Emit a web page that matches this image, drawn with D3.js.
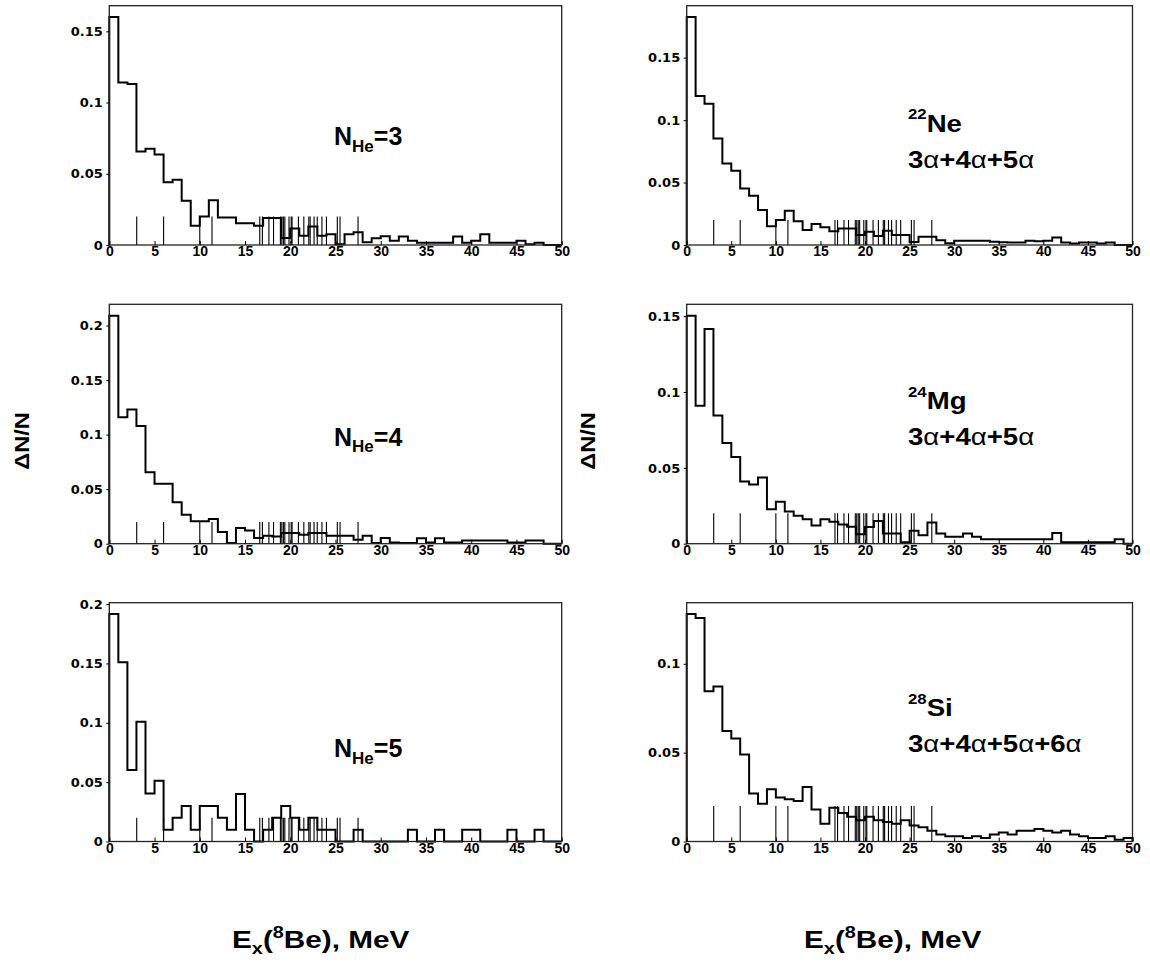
<!DOCTYPE html>
<html>
<head>
<meta charset="utf-8">
<script src="https://cdn.jsdelivr.net/npm/d3@7"></script>
<style>
  body { margin: 0; background: #fff; }
  text { font-family: "Liberation Sans", Arial, sans-serif; font-weight: bold; fill: #000; }
  .ytick text { font-family: "DejaVu Sans", sans-serif; }
</style>
</head>
<body>
<svg id="fig" width="1150" height="968"></svg>
<script>
//------------------------------------------------------------------------
// Ex(8Be) distributions, six panels, 1 MeV bins from 0 to 50 MeV

// Lower edges of the energy bins (MeV)
const binLow = d3.range(0, 50);
const xTicks = [0, 5, 10, 15, 20, 25, 30, 35, 40, 45, 50];

// Known 8Be levels, drawn as short markers (MeV)
const levels = [3.03, 6.0, 10.0, 11.35, 16.63, 16.92, 17.64, 18.15, 18.91, 19.07,
                19.24, 19.40, 19.86, 20.1, 20.2, 20.9, 21.5, 22.05, 22.2, 22.63,
                22.98, 23.5, 24.0, 25.2, 25.5, 27.49];
const levelHeight = 0.02;

// dN/N per bin
const nHe3 = [0.160, 0.114, 0.113, 0.0657, 0.0676, 0.0636, 0.0441, 0.0458, 0.031, 0.0135,
              0.020, 0.0315, 0.0193, 0.0193, 0.0153, 0.0153, 0.0135, 0.019, 0.019, 0.005,
              0.0115, 0.0065, 0.013, 0.0065, 0.0075, 0.0005, 0.0076, 0.009, 0.002, 0.0048,
              0.0062, 0.003, 0.006, 0.003, 0.0015, 0.0015, 0.0015, 0.0015, 0.006, 0.0015,
              0.003, 0.0076, 0.0015, 0.0015, 0.0015, 0.003, 0.0005, 0.0015, 0, 0];

const nHe4 = [0.209, 0.116, 0.123, 0.108, 0.0654, 0.055, 0.055, 0.0379, 0.0266, 0.0205,
              0.0205, 0.0226, 0.0107, 0.0006, 0.0143, 0.0122, 0.0052, 0.0073, 0.0067, 0.0098,
              0.0098, 0.0083, 0.0098, 0.0098, 0.0073, 0.0073, 0.0073, 0.0037, 0.0073, 0.0006,
              0.0052, 0.0012, 0.0006, 0.0006, 0.005, 0.001, 0.005, 0.001, 0.001, 0.003,
              0.003, 0.003, 0.003, 0.003, 0.001, 0.001, 0.003, 0.003, 0, 0];

const nHe5 = [0.1916, 0.151, 0.0603, 0.1008, 0.0405, 0.0511, 0.01, 0.02, 0.03, 0.01,
              0.03, 0.03, 0.02, 0.01, 0.04, 0.01, 0, 0.01, 0.02, 0.03,
              0.02, 0.01, 0.02, 0.01, 0.01, 0, 0, 0.01, 0, 0,
              0, 0, 0, 0.01, 0, 0, 0.01, 0, 0, 0.01,
              0.01, 0, 0, 0, 0.01, 0, 0, 0.01, 0, 0];

const ne22 = [0.1825, 0.1193, 0.1132, 0.0852, 0.0653, 0.0594, 0.0453, 0.0394, 0.028, 0.015,
              0.020, 0.0274, 0.019, 0.012, 0.0168, 0.0143, 0.011, 0.0133, 0.0133, 0.008,
              0.0106, 0.0072, 0.0114, 0.008, 0.008, 0.0025, 0.0067, 0.0067, 0.0038, 0.0015,
              0.0035, 0.0035, 0.0035, 0.0035, 0.0027, 0.0022, 0.002, 0.002, 0.0035, 0.003,
              0.0035, 0.006, 0.002, 0.0013, 0.002, 0.002, 0.0013, 0.002, 0, 0];

const mg24 = [0.1503, 0.0909, 0.1415, 0.0845, 0.0664, 0.0572, 0.041, 0.0391, 0.0437, 0.0227,
              0.0276, 0.0212, 0.0184, 0.0162, 0.012, 0.0161, 0.0144, 0.0127, 0.0111, 0.0063,
              0.011, 0.015, 0.0067, 0.0067, 0.001, 0.0085, 0.0056, 0.014, 0.0067, 0.0045,
              0.0045, 0.0067, 0.0045, 0.003, 0.003, 0.003, 0.003, 0.003, 0.003, 0.003,
              0.003, 0.007, 0.001, 0.001, 0.001, 0.001, 0.001, 0.001, 0.003, 0];

const si28 = [0.128, 0.1258, 0.0845, 0.0873, 0.0622, 0.0579, 0.049, 0.027, 0.0213, 0.0294,
              0.0247, 0.0238, 0.0228, 0.0307, 0.018, 0.010, 0.019, 0.016, 0.014, 0.012,
              0.014, 0.012, 0.011, 0.010, 0.012, 0.009, 0.008, 0.006, 0.004, 0.003,
              0.003, 0.002, 0.003, 0.002, 0.004, 0.005, 0.004, 0.006, 0.006, 0.007,
              0.006, 0.005, 0.006, 0.004, 0.003, 0.002, 0.002, 0.003, 0.001, 0.002];

// Panel frames in page pixels
const cols = [{x0: 109.3, x1: 561.7}, {x0: 686.7, x1: 1132.5}];
const rows = [{y0: 5.7, y1: 245}, {y0: 304.3, y1: 543.7}, {y0: 602.7, y1: 841.5}];

const panels = [
    {col: 0, row: 0, values: nHe3, nHe: '3', labelY: 145},
    {col: 0, row: 1, values: nHe4, nHe: '4', labelY: 445.7},
    {col: 0, row: 2, values: nHe5, nHe: '5', labelY: 757},
    {col: 1, row: 0, values: ne22, mass: '22', elem: 'Ne', alphas: [3, 4, 5],    labelY: 131.7},
    {col: 1, row: 1, values: mg24, mass: '24', elem: 'Mg', alphas: [3, 4, 5],    labelY: 409.3},
    {col: 1, row: 2, values: si28, mass: '28', elem: 'Si', alphas: [3, 4, 5, 6], labelY: 716}
];

const svg = d3.select('#fig');

//------------------------------------------------------------------------
// Function : drawPanel()
// - frame, axes, histogram outline, level markers and panel label
//
function drawPanel(p) {
    const c = cols[p.col], r = rows[p.row];
    const yMax = d3.max(p.values) * 1.05;

    const x = d3.scaleLinear().domain([0, 50]).range([c.x0, c.x1]);
    const y = d3.scaleLinear().domain([0, yMax]).range([r.y1, r.y0]);

    const g = svg.append('g');

    // Histogram outline, ROOT style steps
    const pts = [{e: 0, v: 0}]
        .concat(binLow.map((e, i) => ({e: e, v: p.values[i]})))
        .concat([{e: 50, v: p.values[49]}, {e: 50, v: 0}]);

    const line = d3.line().curve(d3.curveStepAfter)
                   .x(d => x(d.e)).y(d => y(d.v));

    g.append('path').datum(pts)
                    .attr('d', line)
                    .attr('fill', 'none')
                    .attr('stroke', '#000')
                    .attr('stroke-width', 2);

    // Level markers
    g.selectAll('line.level').data(levels).enter()
                             .append('line').attr('class', 'level')
                             .attr('x1', d => x(d)).attr('x2', d => x(d))
                             .attr('y1', y(0)).attr('y2', y(levelHeight))
                             .attr('stroke', '#000')
                             .attr('stroke-width', 1.1);

    // Frame
    g.append('rect').attr('x', c.x0).attr('y', r.y0)
                    .attr('width', c.x1 - c.x0).attr('height', r.y1 - r.y0)
                    .attr('fill', 'none')
                    .attr('stroke', '#222')
                    .attr('stroke-width', 1.3);

    // X axis, ticks pointing in
    const xAxis = d3.axisBottom(x).tickValues(xTicks)
                    .tickSizeInner(-4).tickSizeOuter(0).tickPadding(1.5);
    g.append('g').attr('transform', `translate(0,${r.y1})`)
                 .call(xAxis)
                 .call(a => a.select('.domain').remove())
                 .selectAll('text').style('font-size', '14px');
    g.selectAll('.tick line').attr('stroke', '#000');

    // Y axis, short ticks outside
    const yTicks = d3.range(0, yMax, 0.05).map(v => +v.toFixed(2));
    const yAxis = d3.axisLeft(y).tickValues(yTicks)
                    .tickSizeInner(3).tickSizeOuter(0).tickPadding(3.5)
                    .tickFormat(d => d === 0 ? '0' : String(d));
    g.append('g').attr('class', 'ytick')
                 .attr('transform', `translate(${c.x0},0)`)
                 .call(yAxis)
                 .call(a => a.select('.domain').remove())
                 .call(a => a.selectAll('line').attr('stroke', '#000'))
                 .selectAll('text').style('font-size', '13px');

    // Panel label
    if (p.nHe) {
        const t = g.append('text').attr('x', 334).attr('y', p.labelY)
                                  .style('font-size', '25px');
        t.append('tspan').text('N');
        t.append('tspan').text('He').style('font-size', '17px').attr('dy', 6.7);
        t.append('tspan').text('=' + p.nHe).attr('dy', -6.7);
    } else {
        const lg = g.append('g').attr('transform', `translate(908,${p.labelY}) scale(1.2,1)`);
        const t1 = lg.append('text').style('font-size', '23px');
        t1.append('tspan').text(p.mass).style('font-size', '14px').attr('dy', -12.5);
        t1.append('tspan').text(p.elem).attr('dy', 12.5);

        const t2 = lg.append('text').attr('y', 36).style('font-size', '23px');
        p.alphas.forEach((n, i) => {
            t2.append('tspan').text((i > 0 ? '+' : '') + n);
            t2.append('tspan').text('\u03b1').style('font-weight', 'normal');
        });
    }
}

panels.forEach(drawPanel);

//------------------------------------------------------------------------
// Shared axis titles
[22, 588].forEach(cx => {
    svg.append('text').attr('transform', `translate(${cx},441) rotate(-90) scale(1.12,1)`)
                      .attr('text-anchor', 'middle').attr('dy', '0.35em')
                      .style('font-size', '21px')
                      .text('\u0394N/N');
});

[232, 804].forEach(lx => {
    const t = svg.append('text').attr('transform', `translate(${lx},948) scale(1.24,1)`)
                                .style('font-size', '24px');
    t.append('tspan').text('E');
    t.append('tspan').text('x').style('font-size', '16px').attr('dy', 6);
    t.append('tspan').text('(').attr('dy', -6);
    t.append('tspan').text('8').style('font-size', '16px').attr('dy', -10);
    t.append('tspan').text('Be), MeV').attr('dy', 10);
});
</script>
</body>
</html>
